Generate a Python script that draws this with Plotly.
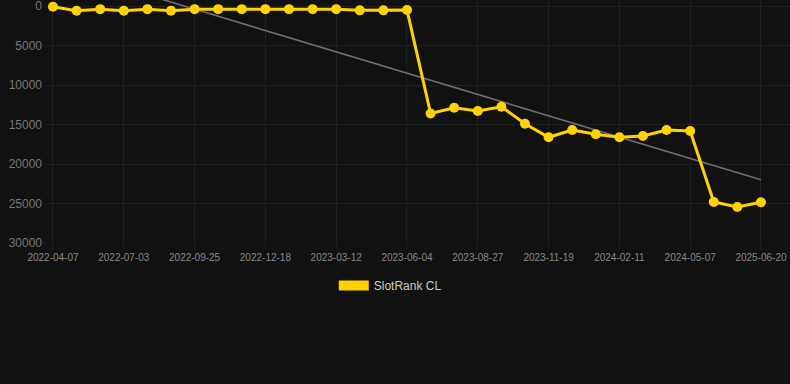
import plotly.graph_objects as go

dates = [
    "2022-04-07", "2022-05-05", "2022-06-02", "2022-07-03", "2022-07-31", "2022-08-28",
    "2022-09-25", "2022-10-23", "2022-11-20", "2022-12-18", "2023-01-15", "2023-02-12",
    "2023-03-12", "2023-04-09", "2023-05-07", "2023-06-04", "2023-07-02", "2023-07-30",
    "2023-08-27", "2023-09-24", "2023-10-22", "2023-11-19", "2023-12-17", "2024-01-14",
    "2024-02-11", "2024-03-10", "2024-04-07", "2024-05-07", "2024-06-04", "2025-05-23",
    "2025-06-20",
]
ranks = [
    100, 600, 400, 600, 400, 600, 400, 400, 400, 400, 400, 400,
    400, 550, 550, 500, 13600, 12870, 13300, 12750, 14900, 16620,
    15700, 16240, 16620, 16460, 15700, 15820, 24810, 25440, 24850,
]
trend_x = [dates[0], dates[-1]]
trend_y = [-5000, 22000]
tick_labels = dates[::3]
y_ticks = [0, 5000, 10000, 15000, 20000, 25000, 30000]

YELLOW = "#FFD200"
BG = "#111111"
GRID = "#1f1f1f"

fig = go.Figure()
fig.add_trace(go.Scatter(
    x=trend_x, y=trend_y, mode="lines",
    line=dict(color="#6e6e6e", width=1.6),
    showlegend=False, hoverinfo="skip",
))
fig.add_trace(go.Scatter(
    x=dates, y=ranks, mode="lines+markers",
    line=dict(color=YELLOW, width=3),
    marker=dict(color=YELLOW, size=10),
    showlegend=False, cliponaxis=False,
))
fig.add_trace(go.Scatter(
    x=[None], y=[None], mode="lines",
    line=dict(color=YELLOW, width=12),
    name="SlotRank CL",
))

fig.update_layout(
    width=790, height=384,
    paper_bgcolor=BG, plot_bgcolor=BG,
    margin=dict(l=47, r=0, t=0, b=141),
    font=dict(family="Liberation Sans, Arial, sans-serif", color="#888888"),
    legend=dict(
        orientation="h", x=0.462, xanchor="center", y=-0.115, yanchor="top",
        font=dict(size=12, color="#cccccc"), bgcolor="rgba(0,0,0,0)",
    ),
)
fig.update_xaxes(
    type="category", categoryorder="array", categoryarray=dates,
    range=[-0.254, 31.23],
    tickvals=tick_labels, ticktext=tick_labels,
    tickfont=dict(size=10, color="#888888"),
    showgrid=True, gridcolor=GRID, gridwidth=1,
    zeroline=False, showline=False,
    ticks="outside", ticklen=5, tickcolor=GRID,
    ticklabeloverflow="allow",
)
fig.update_yaxes(
    range=[30000, -760],
    tickvals=y_ticks, ticktext=[str(v) for v in y_ticks],
    tickfont=dict(size=12, color="#777777"),
    showgrid=True, gridcolor=GRID, gridwidth=1,
    zeroline=False, showline=False,
    ticks="", ticklabelstandoff=4,
    ticklabeloverflow="allow",
)

fig.write_html(
    "out.html",
    config={"displayModeBar": False},
    post_script="document.body.style.margin='0';document.body.style.background='#111111';",
)
